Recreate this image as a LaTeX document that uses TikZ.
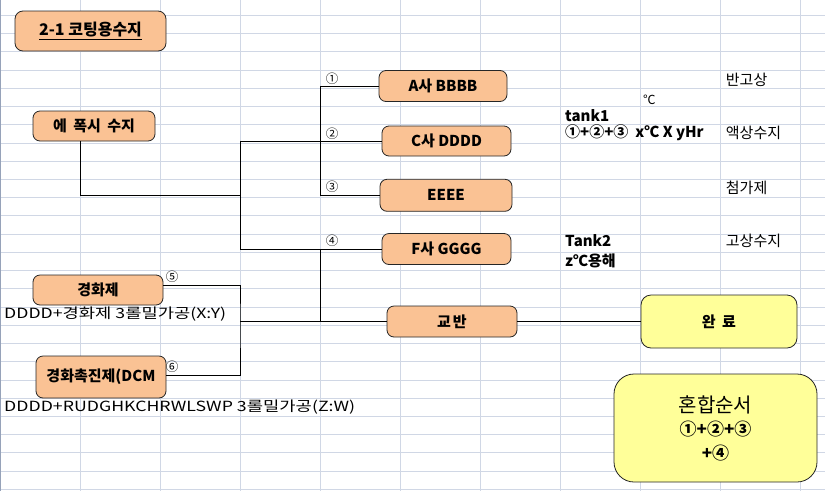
\documentclass[tikz,border=0pt]{standalone}
\usepackage{graphicx}
\usepackage{fontspec}
\setmainfont{Noto Sans CJK KR}
\definecolor{peach}{RGB}{250,194,148}
\definecolor{lemon}{RGB}{255,255,153}
\definecolor{gridc}{RGB}{208,215,229}
\definecolor{edgec}{RGB}{150,162,185}
\tikzset{
  gridline/.style={draw=gridc, line width=0.8pt},
  box/.style={draw=black!85, line width=0.8pt, rounded corners=7pt, fill=peach,
    font=\bfseries\fontsize{15}{17}\selectfont, inner sep=0pt},
  ybox/.style={box, fill=lemon},
  conn/.style={draw=black, line width=1pt},
  numlabel/.style={inner sep=0pt, font=\fontsize{12.5}{12.5}\selectfont},
  note/.style={inner sep=0pt, anchor=west, font=\fontsize{15}{17}\selectfont},
  bnote/.style={note, font=\bfseries\fontsize{15}{17}\selectfont},
}
\begin{document}
\begin{tikzpicture}[x=1pt, y=-1pt]
\useasboundingbox (0,0) rectangle (825,491);
\fill[white] (0,0) rectangle (825,491);
% spreadsheet grid
\foreach \k in {0,...,26} \draw[gridline] (0,{15.3+18.23*\k}) -- (825,{15.3+18.23*\k});
\foreach \k in {1,...,10} \draw[gridline] ({80*\k},0) -- ({80*\k},491);
\draw[edgec, line width=1.2pt] (0.6,0) -- (0.6,491);

% boxes
\node[box, rounded corners=8pt, minimum width=151pt, minimum height=40pt, font=\bfseries\fontsize{16}{18}\selectfont] (title) at (90.5,31) {\underline{2-1 코팅용수지}};
\node[box, minimum width=122pt, minimum height=30pt] (epoxy) at (94,126) {에 \hspace{3pt}폭시 \hspace{3pt}수지};
\node[box, minimum width=128pt, minimum height=31pt] (a) at (443,86) {A사 BBBB};
\node[box, minimum width=129pt, minimum height=30pt] (c) at (446.5,141) {C사 DDDD};
\node[box, minimum width=132pt, minimum height=32pt] (e) at (446,195.3) {EEEE};
\node[box, minimum width=129pt, minimum height=31pt] (f) at (446.5,249) {F사 GGGG};
\node[box, minimum width=130pt, minimum height=31pt] (mix) at (452,321.5) {교\hspace{2pt}반};
\node[ybox, rounded corners=10pt, minimum width=156pt, minimum height=53pt] (done) at (719,321.5) {완 \hspace{3pt}료};
\node[box, minimum width=130pt, minimum height=30pt] (hard) at (98,290) {경화제};
\node[box, minimum width=130pt, minimum height=42pt] (acc) at (101,377) {경화촉진제(DCM};
\node[ybox, rounded corners=20pt, minimum width=203pt, minimum height=108pt, align=center,
  font=\bfseries\fontsize{17}{23.5}\selectfont] (order) at (715.5,428)
  {{\mdseries\fontsize{20}{23.5}\selectfont 혼합순서}\\①+②+③\\+④};

% connectors
\coordinate (k1) at (240,195.3);
\coordinate (b) at (320,195.3);
\coordinate (j2) at (240,321.5);
\coordinate (jx) at (320,321.5);
\draw[conn] ([xshift=-14pt]epoxy.south) |- (k1);
\draw[conn] (c.west) -- (c.west -| k1) -- (f.west -| k1) -- (f.west);
\draw[conn] (a.west) -| (b) -- (e.west);
\draw[conn] (f.west -| jx) -- (jx);
\draw[conn] ([yshift=4.7pt]hard.east) -| (j2) |- ([yshift=1.7pt]acc.east);
\draw[conn] (j2) -- (mix.west);
\draw[conn] (mix.east) -- (done.west);

% circled labels
\node[numlabel] (n1) at (332,79) {①};
\node[numlabel] (n2) at (332,134) {②};
\node[numlabel] (n3) at (332,187) {③};
\node[numlabel] (n4) at (332,241) {④};
\node[numlabel] (n5) at (172,277) {⑤};
\node[numlabel] (n6) at (172,367) {⑥};

% notes
\node[note] (t1) at (725.7,80) {반고상};
\node[note] (t2) at (725.7,133) {액상수지};
\node[note] (t3) at (725.7,187.5) {첨가제};
\node[note] (t4) at (725.7,241) {고상수지};
\node[note, font=\fontsize{12.5}{12.5}\selectfont] (deg) at (643,100) {℃};
\node[bnote] (tk1) at (565,115.5) {tank1};
\node[bnote] (tk1b) at (565,133) {①+②+③\ \ x℃ X yHr};
\node[bnote] (tk2) at (565,241) {Tank2};
\node[bnote] (tk2b) at (565,260.5) {z℃용해};
\node[note, font=\fontsize{14}{16}\selectfont] (d1) at (4,314) {\resizebox{222pt}{\height}{DDDD+경화제 3롤밀가공(X:Y)}};
\node[note, font=\fontsize{14}{16}\selectfont] (d2) at (4,407) {\resizebox{351pt}{\height}{DDDD+RUDGHKCHRWLSWP 3롤밀가공(Z:W)}};
\end{tikzpicture}
\end{document}
